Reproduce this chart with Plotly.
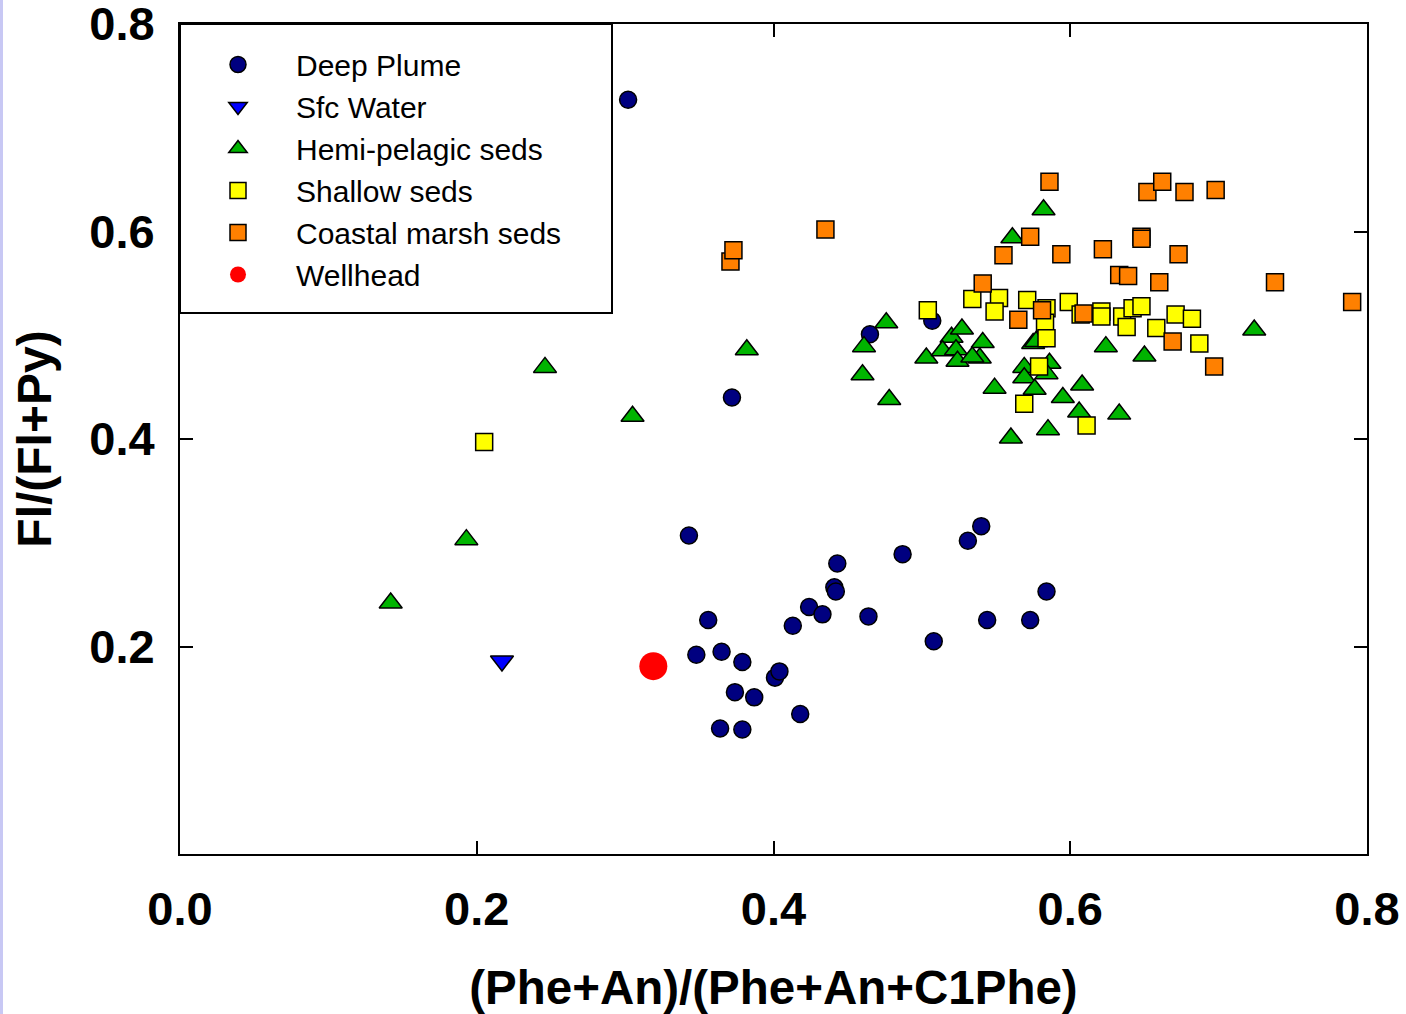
import plotly.graph_objects as go

# ---- data ----
deep_x = [0.302, 0.343, 0.356, 0.348, 0.365, 0.379, 0.374, 0.387, 0.364, 0.379,
          0.401, 0.404, 0.418, 0.413, 0.424, 0.433, 0.441, 0.442, 0.443, 0.464,
          0.487, 0.508, 0.531, 0.540, 0.544, 0.573, 0.584, 0.372, 0.465, 0.507]
deep_y = [0.727, 0.307, 0.2255, 0.192, 0.195, 0.185, 0.156, 0.151, 0.121, 0.120,
          0.170, 0.176, 0.135, 0.220, 0.238, 0.231, 0.257, 0.253, 0.280, 0.229,
          0.289, 0.205, 0.302, 0.316, 0.2255, 0.2255, 0.253, 0.440, 0.501, 0.514]

sfc_x = [0.217]
sfc_y = [0.186]

hemi_x = [0.142, 0.193, 0.246, 0.305, 0.382, 0.460, 0.461, 0.476, 0.478,
          0.582, 0.561, 0.503, 0.520, 0.527, 0.514, 0.523, 0.524, 0.541, 0.539,
          0.534, 0.549, 0.575, 0.577, 0.586, 0.569, 0.569, 0.584, 0.576, 0.595,
          0.608, 0.606, 0.585, 0.560, 0.633, 0.624, 0.650, 0.724]
hemi_y = [0.242, 0.303, 0.469, 0.422, 0.486, 0.462, 0.489, 0.512, 0.438,
          0.621, 0.594, 0.478, 0.498, 0.506, 0.485, 0.486, 0.475, 0.493, 0.478,
          0.479, 0.449, 0.492, 0.494, 0.473, 0.469, 0.459, 0.463, 0.448, 0.440,
          0.452, 0.426, 0.409, 0.401, 0.424, 0.489, 0.480, 0.505]

shallow_x = [0.205, 0.504, 0.534, 0.552, 0.549, 0.571, 0.584, 0.583, 0.584, 0.579,
             0.569, 0.611, 0.599, 0.607, 0.621, 0.621, 0.635, 0.638, 0.642, 0.648,
             0.658, 0.671, 0.682, 0.687]
shallow_y = [0.397, 0.524, 0.535, 0.536, 0.523, 0.534, 0.526, 0.512, 0.497, 0.470,
             0.434, 0.413, 0.532, 0.520, 0.523, 0.518, 0.518, 0.508, 0.526, 0.528,
             0.507, 0.520, 0.516, 0.492]

coastal_x = [0.371, 0.373, 0.435, 0.586, 0.652, 0.662, 0.677, 0.698, 0.573, 0.555,
             0.594, 0.622, 0.648, 0.648, 0.673, 0.633, 0.639, 0.660, 0.738, 0.790,
             0.541, 0.565, 0.581, 0.609, 0.669, 0.697]
coastal_y = [0.571, 0.582, 0.602, 0.648, 0.638, 0.648, 0.638, 0.640, 0.595, 0.577,
             0.578, 0.583, 0.595, 0.593, 0.578, 0.558, 0.557, 0.551, 0.551, 0.532,
             0.550, 0.515, 0.524, 0.521, 0.494, 0.470]

well_x = [0.319]
well_y = [0.181]

x_ticks = [0.0, 0.2, 0.4, 0.6, 0.8]
x_ticklabels = ["0.0", "0.2", "0.4", "0.6", "0.8"]
y_ticks = [0.2, 0.4, 0.6, 0.8]
y_ticklabels = ["0.2", "0.4", "0.6", "0.8"]

FONT = "Liberation Sans, Arial, sans-serif"
OUT = dict(color="black", width=1.5)

fig = go.Figure()
fig.add_trace(go.Scatter(x=deep_x, y=deep_y, mode="markers", name="Deep Plume",
                         marker=dict(symbol="circle", size=17, color="#000080", line=OUT)))
fig.add_trace(go.Scatter(x=sfc_x, y=sfc_y, mode="markers", name="Sfc Water",
                         marker=dict(symbol="triangle-down", size=20, color="#0000ff", line=OUT)))
fig.add_trace(go.Scatter(x=hemi_x, y=hemi_y, mode="markers", name="Hemi-pelagic seds",
                         marker=dict(symbol="triangle-up", size=20, color="#00b400", line=OUT)))
fig.add_trace(go.Scatter(x=shallow_x, y=shallow_y, mode="markers", name="Shallow seds",
                         marker=dict(symbol="square", size=17, color="#ffff00", line=OUT)))
fig.add_trace(go.Scatter(x=coastal_x, y=coastal_y, mode="markers", name="Coastal marsh seds",
                         marker=dict(symbol="square", size=17, color="#ff8000", line=OUT)))
fig.add_trace(go.Scatter(x=well_x, y=well_y, mode="markers", name="Wellhead",
                         marker=dict(symbol="circle", size=28, color="#ff0000", line=dict(width=0))))

axis_common = dict(showgrid=False, zeroline=False, showline=True, linecolor="black",
                   linewidth=2, mirror="allticks", ticks="inside", ticklen=13,
                   tickwidth=1.5, tickcolor="black", automargin=False,
                   ticklabeloverflow="allow",
                   tickfont=dict(family=FONT, size=47, color="black", weight="bold"))

fig.update_xaxes(range=[0, 0.8], tickvals=x_ticks, ticktext=x_ticklabels,
                 ticklabelstandoff=13,
                 title=dict(text="<b>(Phe+An)/(Phe+An+C1Phe)</b>", standoff=40,
                            font=dict(family=FONT, size=47.5, color="black")),
                 **axis_common)
fig.update_yaxes(range=[0, 0.8], tickvals=y_ticks, ticktext=y_ticklabels,
                 ticklabelstandoff=14,
                 title=dict(text="<b>Fl/(Fl+Py)</b>", standoff=22,
                            font=dict(family=FONT, size=48, color="black")),
                 **axis_common)

fig.update_layout(
    width=1406, height=1014,
    margin=dict(l=180, r=39, t=24, b=160, autoexpand=False),
    paper_bgcolor="white", plot_bgcolor="white",
    showlegend=True,
    legend=dict(x=0, y=1 - 14.5 / 830, xanchor="left", yanchor="top",
                bgcolor="rgba(0,0,0,0)", borderwidth=0,
                font=dict(family=FONT, size=30, color="black"),
                itemsizing="trace", itemwidth=106, tracegroupgap=0),
    shapes=[
        dict(type="rect", xref="paper", yref="paper",
             x0=-180 / 1187, x1=-177 / 1187, y0=-160 / 830, y1=854 / 830,
             fillcolor="#c8c8f4", line=dict(width=0), layer="below"),
        dict(type="rect", xref="paper", yref="paper",
             x0=0, x1=432 / 1187, y0=(854 - 313) / 830, y1=1,
             fillcolor="white", line=dict(color="black", width=2), layer="above"),
    ],
)

fig.write_html("out.html")
